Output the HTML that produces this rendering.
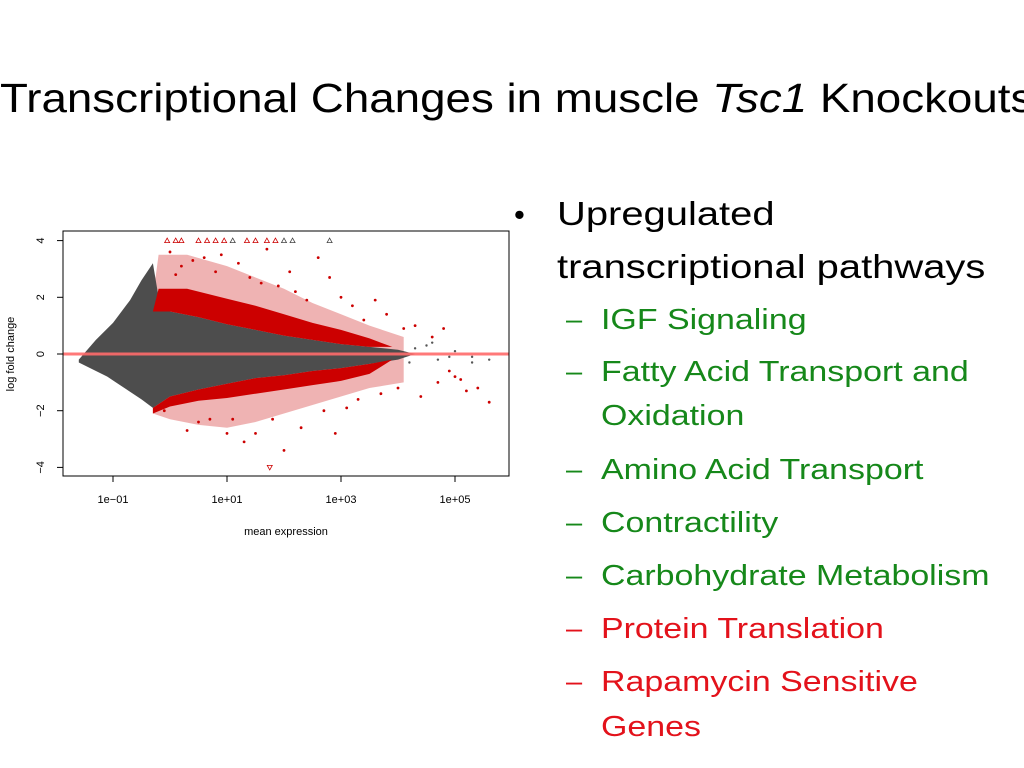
<!DOCTYPE html>
<html><head><meta charset="utf-8">
<style>
body{margin:0;width:1024px;height:768px;background:#fff;overflow:hidden;position:relative;font-family:"Liberation Sans",sans-serif}
.t{position:absolute;white-space:nowrap;line-height:1;transform-origin:0 0}
#title{left:0;top:78px;font-size:41px;color:#000;transform:scaleX(1.115)}
.b{font-size:33px;color:#000;transform:scaleX(1.21)}
.s{font-size:29px;transform:scaleX(1.17)}
.d{font-size:29px}
.g{color:#16881a}.r{color:#e3121b}
</style></head><body>
<div id="title" class="t">Transcriptional Changes in muscle <i>Tsc1</i> Knockouts</div>
<svg id="chart" width="520" height="560" style="position:absolute;left:0;top:0" font-family="Liberation Sans, sans-serif"></svg>
<div class="t d" style="left:514px;top:199px;font-size:31px">•</div>
<div class="t b" style="left:557px;top:197px">Upregulated</div>
<div class="t b" style="left:557px;top:250px">transcriptional pathways</div>
<div class="t d g" style="left:566px;top:306px">–</div>
<div class="t s g" style="left:601px;top:306px">IGF Signaling</div>
<div class="t d g" style="left:566px;top:358px">–</div>
<div class="t s g" style="left:601px;top:358px">Fatty Acid Transport and</div>
<div class="t s g" style="left:601px;top:402px">Oxidation</div>
<div class="t d g" style="left:566px;top:456px">–</div>
<div class="t s g" style="left:601px;top:456px">Amino Acid Transport</div>
<div class="t d g" style="left:566px;top:509px">–</div>
<div class="t s g" style="left:601px;top:509px">Contractility</div>
<div class="t d g" style="left:566px;top:562px">–</div>
<div class="t s g" style="left:601px;top:562px">Carbohydrate Metabolism</div>
<div class="t d r" style="left:566px;top:615px">–</div>
<div class="t s r" style="left:601px;top:615px">Protein Translation</div>
<div class="t d r" style="left:566px;top:668px">–</div>
<div class="t s r" style="left:601px;top:668px">Rapamycin Sensitive</div>
<div class="t s r" style="left:601px;top:713px">Genes</div>
<script>
// data (x = log10 mean expression, y = log fold change)
const xTicks=[-1,1,3,5];
const xTickLabels=["1e\u221201","1e+01","1e+03","1e+05"];
const yTicks=[-4,-2,0,2,4];
const grayEnvX=[-1.6,-1.3,-1.0,-0.7,-0.5,-0.3,-0.2,0,0.5,1,1.5,2,2.5,3,3.5,4,4.3,4.0,3.5,3,2.5,2,1.5,1,0.5,0,-0.3,-0.5,-0.8,-1.1,-1.6];
const grayEnvY=[-0.2,0.5,1.1,1.9,2.6,3.2,2.0,1.5,1.3,1.05,0.85,0.65,0.5,0.35,0.25,0.15,0,-0.2,-0.35,-0.5,-0.6,-0.75,-0.85,-1.05,-1.25,-1.5,-1.9,-1.6,-1.2,-0.8,-0.3];
const redSparseX=[-0.3,-0.2,0.3,1,1.5,2,2.5,3,3.5,4.1,4.1,3.5,3,2.5,2,1.5,1,0.5,0,-0.3];
const redSparseY=[2.0,3.5,3.5,3.1,2.7,2.3,1.8,1.4,1.0,0.6,-1.0,-1.2,-1.5,-1.8,-2.1,-2.4,-2.6,-2.5,-2.3,-2.1];
const redUpX=[-0.3,-0.2,0.3,1,1.5,2,2.5,3,3.5,3.9,3.5,3,2.5,2,1.5,1,0.5,0,-0.3];
const redUpY=[1.5,2.3,2.3,1.95,1.7,1.4,1.1,0.85,0.55,0.25,0.25,0.35,0.5,0.65,0.85,1.05,1.3,1.5,1.5];
const redLoX=[-0.3,0,0.5,1,1.5,2,2.5,3,3.5,3.9,3.5,3,2.5,2,1.5,1,0.5,0,-0.3];
const redLoY=[-1.9,-1.5,-1.25,-1.05,-0.85,-0.75,-0.6,-0.5,-0.35,-0.2,-0.7,-0.95,-1.1,-1.25,-1.4,-1.55,-1.65,-1.85,-2.1];
const redPtX=[0.0,0.2,0.4,0.1,0.6,0.8,0.9,1.2,1.4,1.6,1.7,1.9,2.1,2.2,2.4,2.6,2.8,3.0,3.2,3.4,3.6,3.8,4.1,4.3,4.6,4.8,-0.1,0.3,0.5,0.7,1.0,1.1,1.3,1.5,1.8,2.0,2.3,2.7,2.9,3.1,3.3,3.7,4.0,4.4,4.7,5.0,5.2,5.4,5.6,4.9,5.1];
const redPtY=[3.6,3.1,3.3,2.8,3.4,2.9,3.5,3.2,2.7,2.5,3.7,2.4,2.9,2.2,1.9,3.4,2.7,2.0,1.7,1.2,1.9,1.4,0.9,1.0,0.6,0.9,-2.0,-2.7,-2.4,-2.3,-2.8,-2.3,-3.1,-2.8,-2.3,-3.4,-2.6,-2.0,-2.8,-1.9,-1.6,-1.4,-1.2,-1.5,-1.0,-0.8,-1.3,-1.2,-1.7,-0.6,-0.9];
const grayPtX=[4.3,4.5,4.7,5.0,5.3,5.6,4.2,4.6,4.9,5.3];
const grayPtY=[0.2,0.3,-0.2,0.1,-0.1,-0.2,-0.3,0.4,-0.1,-0.3];
const triRedX=[-0.05,0.1,0.2,0.5,0.65,0.8,0.95,1.35,1.5,1.7,1.85];
const triGrayX=[1.1,2.0,2.15,2.8];
const triDownX=[1.75];
</script>
<script>
const svg=document.getElementById('chart');const NS='http://www.w3.org/2000/svg';
const L=63,R=509,T=231,B=476;
const sx=v=>227+(v-1)*57, sy=v=>354-v*28.35;
function mk(tag,attrs){const e=document.createElementNS(NS,tag);for(const k in attrs)e.setAttribute(k,attrs[k]);svg.appendChild(e);return e;}
function poly(xs,ys,fill,name,op){const e=mk('polygon',{points:xs.map((x,i)=>sx(x)+','+sy(ys[i])).join(' '),fill:fill,opacity:op||1});

}
poly(redSparseX,redSparseY,'#d84040','red-sparse-cloud',0.4);
poly(grayEnvX,grayEnvY,'#4d4d4d','gray-cloud');
poly(redUpX,redUpY,'#cc0000','red-cloud-up');
poly(redLoX,redLoY,'#cc0000','red-cloud-down');
redPtX.forEach((x,i)=>{const c=mk('circle',{cx:sx(x),cy:sy(redPtY[i]),r:1.4,fill:'#cc0000'});

});
grayPtX.forEach((x,i)=>{const c=mk('circle',{cx:sx(x),cy:sy(grayPtY[i]),r:1.2,fill:'#555'});

});
function tri(x,y,col,down){const px=sx(x),py=sy(y),d=down?-1:1;const e=mk('polygon',{points:`${px-2.5},${py+2*d} ${px+2.5},${py+2*d} ${px},${py-2.5*d}`,fill:'none',stroke:col,'stroke-width':0.8});

}
triRedX.forEach(x=>tri(x,4,'#cc0000'));
triGrayX.forEach(x=>tri(x,4,'#444'));
triDownX.forEach(x=>tri(x,-4,'#cc0000',true));
const zl=mk('line',{x1:L,x2:R,y1:sy(0),y2:sy(0),stroke:'#ff6b6b','stroke-width':3,opacity:0.9});


const fr=mk('rect',{x:L,y:T,width:R-L,height:B-T,fill:'none',stroke:'#000','stroke-width':1});


xTicks.forEach((v,i)=>{mk('line',{x1:sx(v),x2:sx(v),y1:B,y2:B+6,stroke:'#000'});
const t=mk('text',{x:sx(v),y:B+27,'font-size':11,'text-anchor':'middle'});t.textContent=xTickLabels[i];

});
yTicks.forEach(v=>{mk('line',{x1:L-6,x2:L,y1:sy(v),y2:sy(v),stroke:'#000'});
const t=mk('text',{x:0,y:0,'font-size':11,'text-anchor':'middle',transform:`translate(44,${sy(v)}) rotate(-90)`});t.textContent=v<0?'\u2212'+(-v):String(v);

});
const xt=mk('text',{x:286,y:535,'font-size':11,'text-anchor':'middle'});xt.textContent='mean expression';


const yt=mk('text',{x:0,y:0,'font-size':11,'text-anchor':'middle',transform:'translate(14,354) rotate(-90)'});yt.textContent='log fold change';


</script>
</body></html>
